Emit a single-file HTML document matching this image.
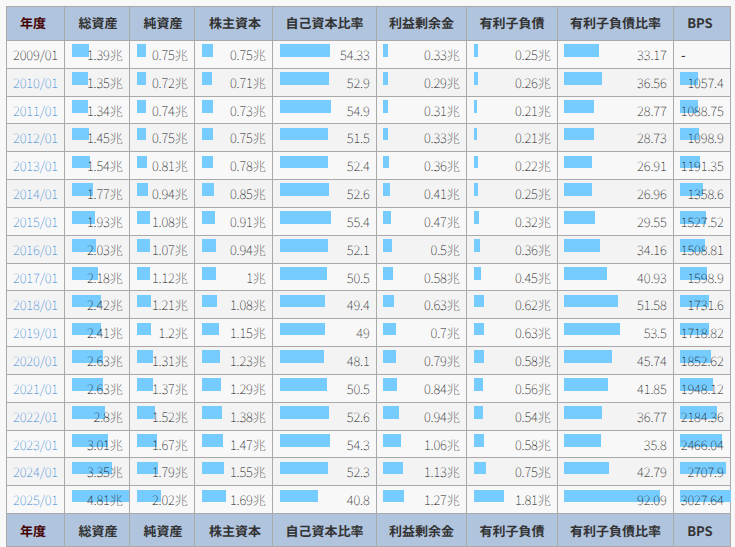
<!DOCTYPE html><html><head><meta charset="utf-8"><style>
html,body{margin:0;padding:0;background:#f8f8f8;width:735px;height:547px;overflow:hidden}
table{position:absolute;left:6px;top:6.3px;border-collapse:collapse;table-layout:fixed;width:725px;
text-rendering:geometricPrecision;font-family:'Noto Sans CJK JP','Liberation Sans',sans-serif;font-size:13px;line-height:20.828125px;color:#111;font-weight:100}
td,th{border:1px solid #aaa;padding:4px 6.3px 2px 6px;white-space:nowrap;position:relative}
th{background:#b0c4de;font-weight:700;color:#333;padding:5.9px 4px 5.9px;text-align:center}
tfoot th{padding-top:6.7px;padding-bottom:4.7px}
th.y{color:#400}
td{text-align:right;letter-spacing:-0.1px}
td.y{text-align:center;padding-left:2px;padding-right:2px}
tr.o td{background:#f8f8f8}
tr.e td{background:#f3f3f3}
a{color:#3585d6;text-decoration:none}
i{position:absolute;left:7px;top:3.45px;height:12.6px;background:#7cf}
b{position:relative;font-weight:inherit}
</style></head><body><table>
<colgroup><col style="width:58px"><col style="width:65px"><col style="width:65px"><col style="width:78px"><col style="width:104px"><col style="width:90px"><col style="width:91px"><col style="width:116px"><col style="width:57px"></colgroup>
<thead><tr><th class=y style="padding-left:1.5px;padding-right:6.5px">年度</th><th style="padding-left:5px;padding-right:3px">総資産</th><th style="padding-left:5px;padding-right:3px">純資産</th><th style="padding-left:5.5px;padding-right:2.5px">株主資本</th><th>自己資本比率</th><th>利益剰余金</th><th>有利子負債</th><th>有利子負債比率</th><th style="padding-left:2px;padding-right:6px">BPS</th></tr></thead><tbody>
<tr class="o"><td class="y">2009/01</td><td><i style="width:16.54px"></i><b>1.39兆</b></td><td><i style="width:8.93px"></i><b>0.75兆</b></td><td><i style="width:11.00px"></i><b>0.75兆</b></td><td><i style="width:50.00px"></i><b>54.33</b></td><td><i style="width:5.00px;left:6px"></i><b>0.33兆</b></td><td><i style="width:4.14px"></i><b>0.25兆</b></td><td><i style="width:34.58px;left:6px"></i><b>33.17</b></td><td style="text-align:left;padding-left:7px"><b style="font-weight:400">-</b></td></tr>
<tr class="e"><td class="y"><a>2010/01</a></td><td><i style="width:16.07px"></i><b>1.35兆</b></td><td><i style="width:8.57px"></i><b>0.72兆</b></td><td><i style="width:10.22px"></i><b>0.71兆</b></td><td><i style="width:48.93px"></i><b>52.9</b></td><td><i style="width:5.00px;left:6px"></i><b>0.29兆</b></td><td><i style="width:4.30px"></i><b>0.26兆</b></td><td><i style="width:38.11px;left:6px"></i><b>36.56</b></td><td><i style="width:17.81px;left:6px"></i><b>1057.4</b></td></tr>
<tr class="o"><td class="y"><a>2011/01</a></td><td><i style="width:15.95px"></i><b>1.34兆</b></td><td><i style="width:8.81px"></i><b>0.74兆</b></td><td><i style="width:10.51px"></i><b>0.73兆</b></td><td><i style="width:50.78px"></i><b>54.9</b></td><td><i style="width:5.00px;left:6px"></i><b>0.31兆</b></td><td><i style="width:3.47px"></i><b>0.21兆</b></td><td><i style="width:29.99px;left:6px"></i><b>28.77</b></td><td><i style="width:18.34px;left:6px"></i><b>1088.75</b></td></tr>
<tr class="e"><td class="y"><a>2012/01</a></td><td><i style="width:17.25px"></i><b>1.45兆</b></td><td><i style="width:8.93px"></i><b>0.75兆</b></td><td><i style="width:10.80px"></i><b>0.75兆</b></td><td><i style="width:47.64px"></i><b>51.5</b></td><td><i style="width:5.00px;left:6px"></i><b>0.33兆</b></td><td><i style="width:3.47px"></i><b>0.21兆</b></td><td><i style="width:29.95px;left:6px"></i><b>28.73</b></td><td><i style="width:18.51px;left:6px"></i><b>1098.9</b></td></tr>
<tr class="o"><td class="y"><a>2013/01</a></td><td><i style="width:18.33px"></i><b>1.54兆</b></td><td><i style="width:9.64px"></i><b>0.81兆</b></td><td><i style="width:11.23px"></i><b>0.78兆</b></td><td><i style="width:48.47px"></i><b>52.4</b></td><td><i style="width:6.12px;left:6px"></i><b>0.36兆</b></td><td><i style="width:3.64px"></i><b>0.22兆</b></td><td><i style="width:28.05px;left:6px"></i><b>26.91</b></td><td><i style="width:20.07px;left:6px"></i><b>1191.35</b></td></tr>
<tr class="e"><td class="y"><a>2014/01</a></td><td><i style="width:21.06px"></i><b>1.77兆</b></td><td><i style="width:11.19px"></i><b>0.94兆</b></td><td><i style="width:12.24px"></i><b>0.85兆</b></td><td><i style="width:48.66px"></i><b>52.6</b></td><td><i style="width:6.97px;left:6px"></i><b>0.41兆</b></td><td><i style="width:4.14px"></i><b>0.25兆</b></td><td><i style="width:28.11px;left:6px"></i><b>26.96</b></td><td><i style="width:22.89px;left:6px"></i><b>1358.6</b></td></tr>
<tr class="o"><td class="y"><a>2015/01</a></td><td><i style="width:22.97px"></i><b>1.93兆</b></td><td><i style="width:12.85px"></i><b>1.08兆</b></td><td><i style="width:13.10px"></i><b>0.91兆</b></td><td><i style="width:51.00px"></i><b>55.4</b></td><td><i style="width:7.99px;left:6px"></i><b>0.47兆</b></td><td><i style="width:5.29px"></i><b>0.32兆</b></td><td><i style="width:30.81px;left:6px"></i><b>29.55</b></td><td><i style="width:25.73px;left:6px"></i><b>1527.52</b></td></tr>
<tr class="e"><td class="y"><a>2016/01</a></td><td><i style="width:24.16px"></i><b>2.03兆</b></td><td><i style="width:12.73px"></i><b>1.07兆</b></td><td><i style="width:13.54px"></i><b>0.94兆</b></td><td><i style="width:48.19px"></i><b>52.1</b></td><td><i style="width:8.50px;left:6px"></i><b>0.5兆</b></td><td><i style="width:5.96px"></i><b>0.36兆</b></td><td><i style="width:35.61px;left:6px"></i><b>34.16</b></td><td><i style="width:25.42px;left:6px"></i><b>1508.81</b></td></tr>
<tr class="o"><td class="y"><a>2017/01</a></td><td><i style="width:25.94px"></i><b>2.18兆</b></td><td><i style="width:13.33px"></i><b>1.12兆</b></td><td><i style="width:14.00px"></i><b>1兆</b></td><td><i style="width:47.00px"></i><b>50.5</b></td><td><i style="width:10.00px;left:6px"></i><b>0.58兆</b></td><td><i style="width:7.45px"></i><b>0.45兆</b></td><td><i style="width:42.67px;left:6px"></i><b>40.93</b></td><td><i style="width:26.93px;left:6px"></i><b>1598.9</b></td></tr>
<tr class="e"><td class="y"><a>2018/01</a></td><td><i style="width:28.80px"></i><b>2.42兆</b></td><td><i style="width:14.40px"></i><b>1.21兆</b></td><td><i style="width:15.00px"></i><b>1.08兆</b></td><td><i style="width:45.00px"></i><b>49.4</b></td><td><i style="width:11.00px;left:6px"></i><b>0.63兆</b></td><td><i style="width:10.26px"></i><b>0.62兆</b></td><td><i style="width:53.77px;left:6px"></i><b>51.58</b></td><td><i style="width:29.17px;left:6px"></i><b>1731.6</b></td></tr>
<tr class="o"><td class="y"><a>2019/01</a></td><td><i style="width:28.68px"></i><b>2.41兆</b></td><td><i style="width:14.28px"></i><b>1.2兆</b></td><td><i style="width:17.00px"></i><b>1.15兆</b></td><td><i style="width:45.00px"></i><b>49</b></td><td><i style="width:13.00px;left:6px"></i><b>0.7兆</b></td><td><i style="width:10.42px"></i><b>0.63兆</b></td><td><i style="width:55.77px;left:6px"></i><b>53.5</b></td><td><i style="width:28.95px;left:6px"></i><b>1718.82</b></td></tr>
<tr class="e"><td class="y"><a>2020/01</a></td><td><i style="width:31.30px"></i><b>2.63兆</b></td><td><i style="width:15.59px"></i><b>1.31兆</b></td><td><i style="width:18.00px"></i><b>1.23兆</b></td><td><i style="width:44.00px"></i><b>48.1</b></td><td><i style="width:13.00px;left:6px"></i><b>0.79兆</b></td><td><i style="width:9.60px"></i><b>0.58兆</b></td><td><i style="width:47.68px;left:6px"></i><b>45.74</b></td><td><i style="width:31.21px;left:6px"></i><b>1852.62</b></td></tr>
<tr class="o"><td class="y"><a>2021/01</a></td><td><i style="width:31.30px"></i><b>2.63兆</b></td><td><i style="width:16.30px"></i><b>1.37兆</b></td><td><i style="width:18.58px"></i><b>1.29兆</b></td><td><i style="width:46.71px"></i><b>50.5</b></td><td><i style="width:14.00px;left:6px"></i><b>0.84兆</b></td><td><i style="width:9.27px"></i><b>0.56兆</b></td><td><i style="width:43.63px;left:6px"></i><b>41.85</b></td><td><i style="width:32.82px;left:6px"></i><b>1948.12</b></td></tr>
<tr class="e"><td class="y"><a>2022/01</a></td><td><i style="width:33.32px"></i><b>2.8兆</b></td><td><i style="width:18.09px"></i><b>1.52兆</b></td><td><i style="width:19.87px"></i><b>1.38兆</b></td><td><i style="width:48.66px"></i><b>52.6</b></td><td><i style="width:16.00px;left:6px"></i><b>0.94兆</b></td><td><i style="width:8.93px"></i><b>0.54兆</b></td><td><i style="width:38.33px;left:6px"></i><b>36.77</b></td><td><i style="width:36.80px;left:6px"></i><b>2184.36</b></td></tr>
<tr class="o"><td class="y"><a>2023/01</a></td><td><i style="width:35.82px"></i><b>3.01兆</b></td><td><i style="width:19.87px"></i><b>1.67兆</b></td><td><i style="width:21.17px"></i><b>1.47兆</b></td><td><i style="width:50.23px"></i><b>54.3</b></td><td><i style="width:18.00px;left:6px"></i><b>1.06兆</b></td><td><i style="width:9.60px"></i><b>0.58兆</b></td><td><i style="width:37.32px;left:6px"></i><b>35.8</b></td><td><i style="width:41.54px;left:6px"></i><b>2466.04</b></td></tr>
<tr class="e"><td class="y"><a>2024/01</a></td><td><i style="width:39.87px"></i><b>3.35兆</b></td><td><i style="width:21.30px"></i><b>1.79兆</b></td><td><i style="width:22.32px"></i><b>1.55兆</b></td><td><i style="width:48.38px"></i><b>52.3</b></td><td><i style="width:20.00px;left:6px"></i><b>1.13兆</b></td><td><i style="width:12.41px"></i><b>0.75兆</b></td><td><i style="width:44.61px;left:6px"></i><b>42.79</b></td><td><i style="width:45.61px;left:6px"></i><b>2707.9</b></td></tr>
<tr class="o"><td class="y"><a>2025/01</a></td><td><i style="width:57.00px"></i><b>4.81兆</b></td><td><i style="width:24.00px"></i><b>2.02兆</b></td><td><i style="width:24.00px"></i><b>1.69兆</b></td><td><i style="width:37.74px"></i><b>40.8</b></td><td><i style="width:21.00px;left:6px"></i><b>1.27兆</b></td><td><i style="width:30.00px"></i><b>1.81兆</b></td><td><i style="width:96.00px;left:6px"></i><b>92.09</b></td><td><i style="width:51.00px;left:6px"></i><b>3027.64</b></td></tr>
</tbody><tfoot><tr><th class=y style="padding-left:1.5px;padding-right:6.5px">年度</th><th style="padding-left:5px;padding-right:3px">総資産</th><th style="padding-left:5px;padding-right:3px">純資産</th><th style="padding-left:5.5px;padding-right:2.5px">株主資本</th><th>自己資本比率</th><th>利益剰余金</th><th>有利子負債</th><th>有利子負債比率</th><th style="padding-left:2px;padding-right:6px">BPS</th></tr></tfoot></table></body></html>
